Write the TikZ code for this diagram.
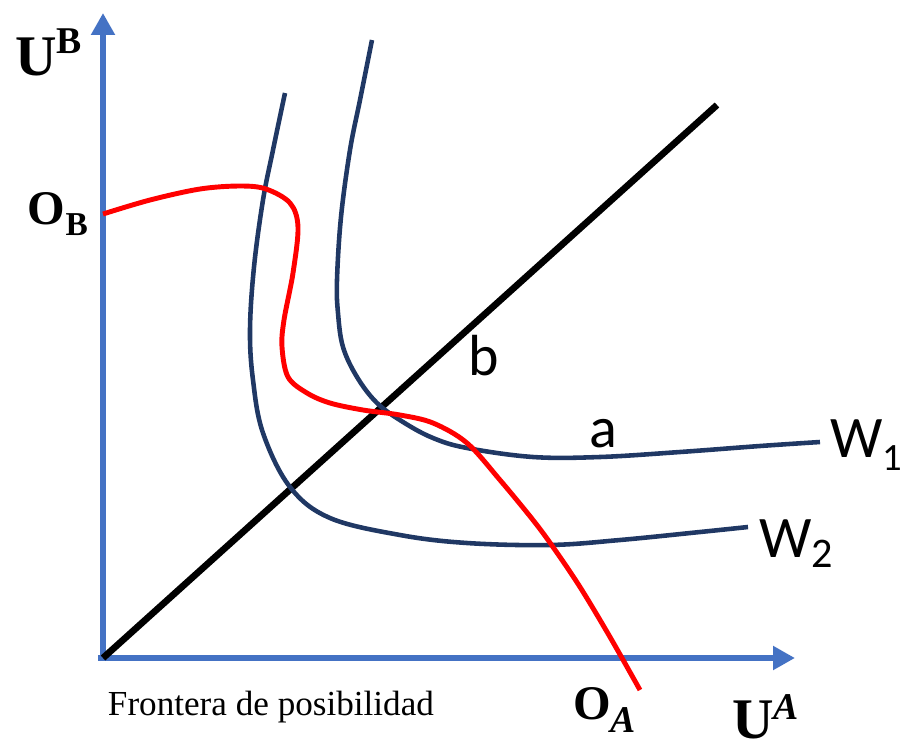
\documentclass[tikz,border=0pt]{standalone}
\usepackage{fontspec}
\setmainfont{Liberation Serif}
\newfontfamily\calib{Carlito}
\usetikzlibrary{arrows.meta}
\definecolor{axisblue}{HTML}{4472C4}
\definecolor{navy}{HTML}{203864}
\definecolor{redc}{HTML}{FF0000}
\tikzset{
  axisline/.style={draw=axisblue, line width=3.4pt, -{Triangle[length=12.5pt,width=13pt]}},
  diagline/.style={draw=black, line width=3.8pt},
  frontier/.style={draw=redc, line width=2.8pt},
  indiff/.style={draw=navy, line width=2.6pt},
  lbl/.style={inner sep=0pt, outer sep=0pt, anchor=base west},
}
\begin{document}
\begin{tikzpicture}[x=0.02cm, y=-0.02cm]
\useasboundingbox (0,0) rectangle (904,745);
% axes
\coordinate (O) at (103,658);
\coordinate (ytop) at (103,13);
\coordinate (xend) at (795,658);
\coordinate (ybot) at (103,661);
\coordinate (xstart) at (98,658);
\coordinate (dend) at (717,105);
\draw[axisline] (ybot) -- (ytop);
\draw[axisline] (xstart) -- (xend);
% diagonal
\draw[diagline] (O) -- (dend);
% indifference curves
\draw[indiff] plot[smooth, tension=0.6] coordinates {(372,40) (360,100) (350,150) (341,217) (337,280) (338,313) (343,347) (357,377) (377,403) (403,422) (433,438) (467,448) (533,457) (600,457) (680,452) (760,446) (820,442)};
\draw[indiff] plot[smooth, tension=0.6] coordinates {(285,93) (273,150) (263,200) (254,267) (250,330) (253,380) (263,433) (290,487) (330,518) (400,535) (467,543) (550,545) (620,540) (700,532) (748,527)};
% frontier
\draw[frontier] plot[smooth, tension=0.55] coordinates {(103,214) (150,200) (200,189) (240,186) (266,189) (290,203) (298,227) (293,273) (284,320) (282,347) (288,377) (307,393) (330,403) (363,410) (400,415) (433,423) (467,443) (500,480) (533,520) (553,547) (580,587) (610,637) (640,690)};
% labels
\node[lbl] (UB) at (15,75) {\fontsize{32.7}{36}\selectfont\bfseries U\raisebox{12.5pt}{\fontsize{21.5}{24}\selectfont B}};
\node[lbl] (OB) at (28,224) {\fontsize{27.5}{30}\selectfont\bfseries O\raisebox{-6.8pt}{\fontsize{19}{22}\selectfont B}};
\node[lbl] (OA) at (573,719) {\fontsize{27.5}{30}\selectfont\bfseries O\raisebox{-7.4pt}{\fontsize{21.5}{24}\selectfont\itshape A}};
\node[lbl] (UA) at (732,738) {\fontsize{32.7}{36}\selectfont\bfseries U\raisebox{10.8pt}{\fontsize{21.5}{24}\selectfont\itshape A}};
\node[lbl] (fr) at (108,715) {\fontsize{20}{24}\selectfont Frontera de posibilidad};
\node[lbl] (b) at (468,375) {\calib\fontsize{33}{36}\selectfont b};
\node[lbl] (a) at (589,447) {\calib\fontsize{33}{36}\selectfont a};
\node[lbl] (W1) at (830,457) {\calib\fontsize{33.5}{36}\selectfont W\raisebox{-7.4pt}{\fontsize{22}{26}\selectfont 1}};
\node[lbl] (W2) at (759,557) {\calib\fontsize{33.5}{36}\selectfont W\raisebox{-6pt}{\fontsize{24}{26}\selectfont 2}};
\end{tikzpicture}
\end{document}
